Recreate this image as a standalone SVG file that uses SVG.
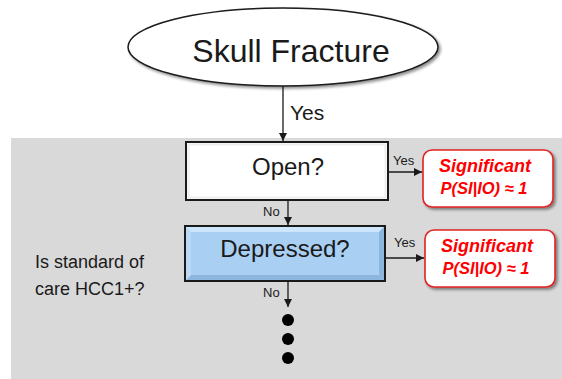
<svg xmlns="http://www.w3.org/2000/svg" width="562" height="379" viewBox="0 0 562 379">
  <defs>
    <style>
      .lbl { font-family: "Liberation Sans", Arial, sans-serif; fill: #1a1a1a; }
      .big { font-size: 32px; }
      .q { font-size: 24px; text-anchor: middle; }
      .small { font-size: 13px; }
      .sig { font-family: "Liberation Sans", Arial, sans-serif; font-weight: bold; font-style: italic; fill: #ff0000; text-anchor: middle; }
      .line { stroke: #1a1a1a; stroke-width: 1.3; fill: none; }
      .result { fill: #ffffff; stroke: #e02424; stroke-width: 1.6; }
    </style>
    <marker id="arrow" viewBox="0 0 10 10" refX="10" refY="5" markerWidth="8" markerHeight="8" markerUnits="userSpaceOnUse" orient="auto">
      <path d="M0,0 L10,5 L0,10 Z" fill="#1a1a1a"/>
    </marker>
    <filter id="shadow" x="-10%" y="-10%" width="125%" height="135%">
      <feGaussianBlur in="SourceAlpha" stdDeviation="1.6"/>
      <feOffset dx="1.5" dy="2" result="b"/>
      <feComponentTransfer><feFuncA type="linear" slope="0.45"/></feComponentTransfer>
      <feMerge><feMergeNode/><feMergeNode in="SourceGraphic"/></feMerge>
    </filter>
    <linearGradient id="blueTop" x1="0" y1="0" x2="0" y2="1">
      <stop offset="0" stop-color="#c9e3fa"/>
      <stop offset="1" stop-color="#a9cff3"/>
    </linearGradient>
  </defs>

  <!-- shaded panel -->
  <rect x="11" y="138" width="551" height="241" fill="#d9d9d9"/>

  <!-- connectors -->
  <g id="connectors">
    <line class="line" x1="283" y1="86" x2="283" y2="141" marker-end="url(#arrow)"/>
    <text class="lbl" x="290" y="120" font-size="21">Yes</text>
    <line class="line" x1="388" y1="172" x2="422" y2="172" marker-end="url(#arrow)"/>
    <text class="lbl small" x="393" y="165">Yes</text>
    <line class="line" x1="288" y1="200" x2="288" y2="225" marker-end="url(#arrow)"/>
    <text class="lbl small" x="263" y="216">No</text>
    <line class="line" x1="385" y1="258" x2="424" y2="258" marker-end="url(#arrow)"/>
    <text class="lbl small" x="394" y="247">Yes</text>
    <line class="line" x1="288" y1="281" x2="288" y2="307" marker-end="url(#arrow)"/>
    <text class="lbl small" x="263" y="297">No</text>
  </g>

  <!-- start node -->
  <g id="skull-fracture">
    <ellipse cx="283" cy="47" rx="155" ry="39" fill="#ffffff" stroke="#1a1a1a" stroke-width="1.5" filter="url(#shadow)"/>
    <text class="lbl big" x="291" y="62" text-anchor="middle">Skull Fracture</text>
  </g>

  <!-- decision: open -->
  <g id="open">
    <rect x="186" y="142" width="202" height="58" fill="#ffffff" stroke="#1a1a1a" stroke-width="2"/>
    <rect x="188.5" y="144.5" width="197" height="53" fill="none" stroke="#eeeeee" stroke-width="2"/>
    <text class="lbl q" x="288" y="175">Open?</text>
  </g>

  <!-- decision: depressed -->
  <g id="depressed">
    <rect x="185" y="226" width="200" height="55" fill="#a9cff3" stroke="#1a1a1a" stroke-width="2"/>
    <path d="M186,227 L384,227 L379,232 L191,232 Z" fill="#cde6fb"/>
    <path d="M384,227 L384,280 L379,275 L379,232 Z" fill="#8cb6dc"/>
    <path d="M186,280 L384,280 L379,275 L191,275 Z" fill="#8db7de"/>
    <path d="M186,227 L186,280 L191,275 L191,232 Z" fill="#bcdaf6"/>
    <rect x="185" y="226" width="200" height="55" fill="none" stroke="#1a1a1a" stroke-width="2"/>
    <text class="lbl q" x="285" y="257">Depressed?</text>
  </g>

  <!-- outcome boxes -->
  <g id="significant-open">
    <rect class="result" x="423" y="150" width="130" height="57" rx="9" filter="url(#shadow)"/>
    <text class="sig" x="485" y="172" font-size="18">Significant</text>
    <text class="sig" x="484" y="194" font-size="16.5">P(SI|IO) ≈ 1</text>
  </g>

  <g id="significant-depressed">
    <rect class="result" x="425" y="230" width="130" height="57" rx="9" filter="url(#shadow)"/>
    <text class="sig" x="487" y="252" font-size="18">Significant</text>
    <text class="sig" x="486" y="274" font-size="16.5">P(SI|IO) ≈ 1</text>
  </g>

  <!-- side question -->
  <g id="hcc-question">
    <text class="lbl" x="35" y="268" font-size="18">Is standard of</text>
    <text class="lbl" x="35" y="295" font-size="18">care HCC1+?</text>
  </g>

  <!-- continuation -->
  <g id="continuation" fill="#000000">
    <circle cx="288" cy="320" r="6"/>
    <circle cx="288" cy="339" r="6"/>
    <circle cx="288" cy="358" r="6"/>
  </g>
</svg>
